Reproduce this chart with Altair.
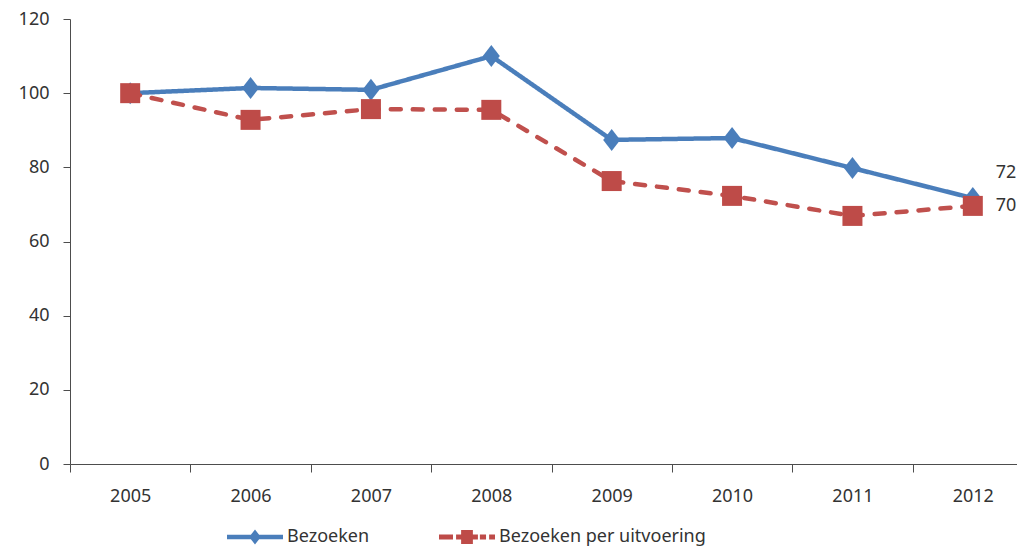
import altair as alt
import pandas as pd

years = ["2005", "2006", "2007", "2008", "2009", "2010", "2011", "2012"]
bezoeken = [100, 101.4, 100.9, 110.0, 87.4, 87.9, 79.8, 71.7]
per_uitvoering = [100, 92.8, 95.7, 95.5, 76.3, 72.3, 66.9, 69.6]
series_names = ["Bezoeken", "Bezoeken per uitvoering"]
y_ticks = [0, 20, 40, 60, 80, 100, 120]

rows = []
for name, vals in zip(series_names, [bezoeken, per_uitvoering]):
    for yr, v in zip(years, vals):
        rows.append({"jaar": yr, "waarde": v, "reeks": name})
df = pd.DataFrame(rows)

FONT = "Noto Sans"
TXT = "#333333"
AX = "#4d4d4d"
colors = ["#4A7EBB", "#C0504D"]
marker_colors = ["#4A7EBB", "#BE4B48"]
dashes = [[1, 0], [10, 12]]
marker_shapes = ["M0,-1.1L0.85,0L0,1.1L-0.85,0Z", "square"]
legend_shapes = [
    "M-1,-0.08H1V0.08H-1Z M0,-0.27L0.21,0L0,0.27L-0.21,0Z",
    "M-1,-0.09H-0.5V0.09H-1Z M-0.39,-0.09H0.39V0.09H-0.39Z "
    "M-0.21,-0.25H0.21V0.25H-0.21Z M0.46,-0.09H0.68V0.09H0.46Z M0.79,-0.09H1V0.09H0.79Z",
]
legend_x = [157, 369]
label_dy = [-25, 0]

x_scale = alt.Scale(type="band", domain=years, range=[0, 963], paddingInner=0, paddingOuter=0)
x_axis = alt.Axis(title=None, labelAngle=0, tickBand="extent", tickSize=8, labelPadding=15,
                  labelFont=FONT, labelFontSize=18, labelColor=TXT, domainColor=AX,
                  tickColor=AX, grid=False)
y_scale = alt.Scale(domain=[0, 120], nice=False)
y_axis = alt.Axis(title=None, values=y_ticks, tickSize=7, labelPadding=14, labelFont=FONT,
                  labelFontSize=18, labelColor=TXT, domainColor=AX, tickColor=AX, grid=False)

base = alt.Chart(df)
layers = []
for i, name in enumerate(series_names):
    sub = base.transform_filter(alt.datum.reeks == name)
    x = alt.X("jaar:O", scale=x_scale, axis=x_axis, bandPosition=0.5)
    y = alt.Y("waarde:Q", scale=y_scale, axis=y_axis)
    line = sub.mark_line(color=colors[i], strokeWidth=4.5, strokeDash=dashes[i],
                         strokeCap="round" if i == 1 else "butt").encode(x=x, y=y)
    pts = sub.mark_point(filled=True, opacity=1, size=400, shape=marker_shapes[i],
                         strokeWidth=0).encode(
        x=x, y=y,
        color=alt.Color("reeks:N",
                        scale=alt.Scale(domain=[name], range=[marker_colors[i]]),
                        legend=alt.Legend(title=None, orient="none", legendX=legend_x[i],
                                          legendY=490, symbolType=legend_shapes[i],
                                          symbolSize=3136, symbolStrokeWidth=0,
                                          labelFont=FONT, labelFontSize=18, labelLimit=400,
                                          labelColor=TXT, labelOffset=4, padding=0)))
    lbl = sub.transform_filter(alt.datum.jaar == years[-1]).mark_text(
        align="left", baseline="middle", dx=23, dy=label_dy[i], font=FONT,
        fontSize=18, color=TXT).encode(x=x, y=y, text=alt.Text("waarde:Q", format=".0f"))
    layers += [line, pts, lbl]

chart = alt.layer(*layers).resolve_scale(color="independent").properties(
    width=947, height=445,
    padding={"left": 62, "top": 11, "right": 0, "bottom": 84},
    autosize=alt.AutoSizeParams(type="none"),
).configure_view(stroke=None)

chart.save("out.html", embed_options={"renderer": "svg", "actions": False})
